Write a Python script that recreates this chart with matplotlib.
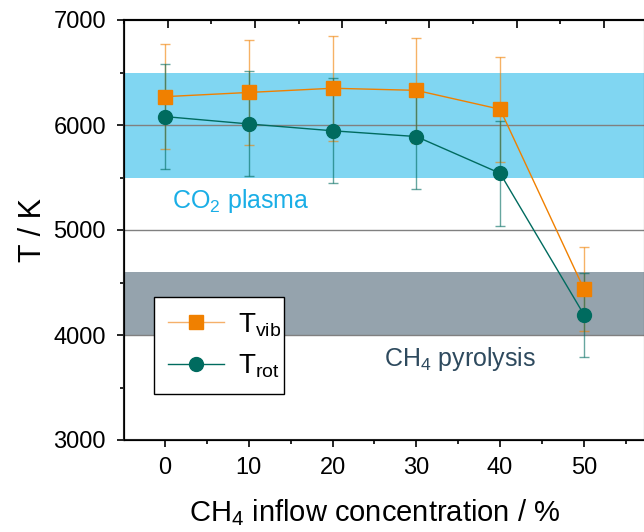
import matplotlib
matplotlib.use("Agg")
import matplotlib.pyplot as plt
from matplotlib.ticker import MultipleLocator
from matplotlib.lines import Line2D

plt.rcParams['font.family'] = ['Liberation Sans', 'DejaVu Sans']
plt.rcParams['mathtext.fontset'] = 'custom'
plt.rcParams['mathtext.rm'] = 'Liberation Sans'
plt.rcParams['mathtext.it'] = 'Liberation Sans'

# CH4 inflow concentration (%)
ch4 = [0, 10, 20, 30, 40, 50]
# Vibrational temperature and uncertainty (K)
t_vib = [6270, 6310, 6350, 6330, 6150, 4440]
t_vib_err = [500, 500, 500, 500, 500, 400]
# Rotational temperature and uncertainty (K)
t_rot = [6080, 6010, 5945, 5890, 5540, 4195]
t_rot_err = [500, 500, 500, 500, 500, 400]

# Reference temperature ranges (K)
co2_band = (5500, 6500)
ch4_band = (4000, 4600)
grid_levels = [4000, 5000, 6000]

orange = '#f08000'
teal = '#006b5f'

fig = plt.figure(figsize=(6.44, 5.32), dpi=100)
ax = fig.add_axes([124/644, 1-440/532, 521/644, 420/532])

ax.axhspan(*co2_band, color='#80d6f2', lw=0, zorder=0)
ax.axhspan(*ch4_band, color='#95a3ad', lw=0, zorder=0)
for lv in grid_levels:
    ax.axhline(lv, color='#808080', lw=1, zorder=1)

ax.errorbar(ch4, t_vib, yerr=t_vib_err, fmt='none', ecolor=orange, alpha=0.6,
            elinewidth=1, capsize=3.5, capthick=1, zorder=2)
ax.errorbar(ch4, t_rot, yerr=t_rot_err, fmt='none', ecolor=teal, alpha=0.6,
            elinewidth=1, capsize=3.5, capthick=1, zorder=2)
ax.plot(ch4, t_vib, color=orange, lw=1, zorder=3)
ax.plot(ch4, t_rot, color=teal, lw=1, zorder=3)
ax.plot(ch4, t_vib, ls='none', marker='s', ms=9.5, color=orange, mec=orange, zorder=4)
ax.plot(ch4, t_rot, ls='none', marker='o', ms=10, color=teal, mec=teal, zorder=4)

ax.set_xlim(-4.9, 57.3)
ax.set_ylim(3000, 7000)
ax.xaxis.set_major_locator(MultipleLocator(10))
ax.xaxis.set_minor_locator(MultipleLocator(5))
ax.yaxis.set_major_locator(MultipleLocator(1000))
ax.yaxis.set_minor_locator(MultipleLocator(500))
ax.tick_params(axis='both', which='major', direction='out', length=5, width=1.2,
               labelsize=17, right=True)
ax.tick_params(axis='x', which='major', pad=7)
ax.tick_params(axis='y', which='major', pad=8)
ax.tick_params(axis='both', which='minor', direction='out', length=3, width=1.2, right=True)
ax.tick_params(axis='y', which='both', labelright=False)
for s in ax.spines.values():
    s.set_linewidth(1.5)
    s.set_color('#222222')

# Top axis with its own tick spacing
top = ax.twiny()
top.set_xlim(-5.0, 54.7)
top.xaxis.set_major_locator(MultipleLocator(10))
top.xaxis.set_minor_locator(MultipleLocator(5))
top.tick_params(axis='x', which='major', direction='in', length=6, width=1.2, labeltop=False)
top.tick_params(axis='x', which='minor', direction='in', length=3, width=1.2)
top.spines['top'].set_linewidth(1.5)

ax.set_ylabel('T / K', fontsize=22, labelpad=4)
ax.set_xlabel('CH$_4$ inflow concentration / %', fontsize=21)
ax.xaxis.set_label_coords(0.481, -0.136)

ax.text(0.8, 5210, 'CO$_2$ plasma', fontsize=18,
        color='#1aaee6', va='baseline', ha='left')
ax.text(26.1, 3705, 'CH$_4$ pyrolysis', fontsize=18,
        color='#2e4a5e', va='baseline', ha='left')

handles = [
    Line2D([], [], color='#f5b06a', lw=1, marker='s', ms=9.5,
           markerfacecolor=orange, markeredgecolor=orange),
    Line2D([], [], color=teal, lw=1, marker='o', ms=10),
]
leg = ax.legend(handles, ['T$_\\mathrm{vib}$', 'T$_\\mathrm{rot}$'], loc='lower left',
                bbox_to_anchor=(0.058, 0.11, 0.25, 0.233), mode='expand',
                fontsize=20, frameon=True, fancybox=False, edgecolor='black',
                framealpha=1, handlelength=2.0, borderaxespad=0, labelspacing=0.5,
                borderpad=0.5, handletextpad=0.5)
leg.get_frame().set_linewidth(1)
leg.set_zorder(6)

fig.savefig('out.png', dpi=100)
